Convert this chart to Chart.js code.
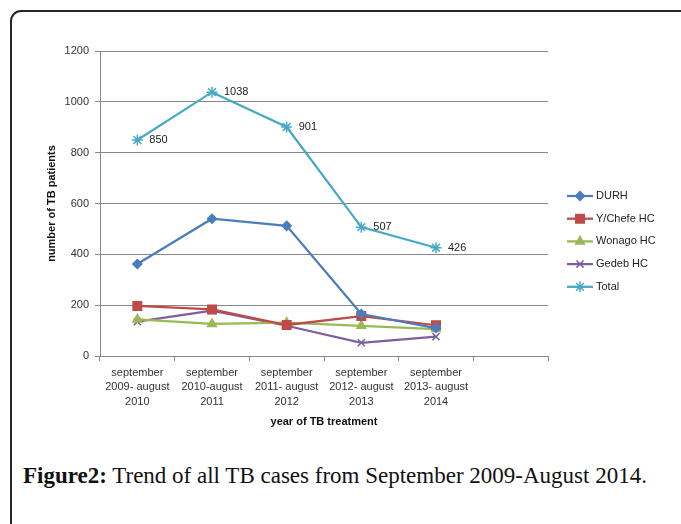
<!DOCTYPE html>
<html>
<head>
<meta charset="utf-8">
<script src="https://cdn.jsdelivr.net/npm/chart.js@4/dist/chart.umd.min.js"></script>
<style>
  html, body { margin: 0; padding: 0; background: #fff; overflow: hidden; }
  #frame {
    position: absolute; left: 10px; top: 10px; width: 720px; height: 600px;
    border: 2px solid #262626; border-radius: 11px;
  }
  #wrap { position: absolute; left: 0; top: 0; width: 681px; height: 440px; }
  #caption {
    position: absolute; left: 23px; top: 463px; white-space: nowrap;
    font-family: 'Liberation Serif', serif; font-size: 23px; line-height: 26px; color: #111;
  }
  #caption b { font-weight: bold; }
</style>
</head>
<body>
<div id="frame"></div>
<div id="wrap"><canvas id="tbChart" width="681" height="440"></canvas></div>
<div id="caption"><b>Figure2:</b> Trend of all TB cases from September 2009-August 2014.</div>
<script>
/* TB cases per facility, Sept 2009 - Aug 2014 */

const CATEGORIES = [
  ['september', '2009- august', '2010'],
  ['september', '2010-august', '2011'],
  ['september', '2011- august', '2012'],
  ['september', '2012- august', '2013'],
  ['september', '2013- august', '2014'],
  '',
];
const DURH = [362, 540, 512, 165, 110];
const YCHEFE = [197, 183, 122, 157, 121];
const WONAGO = [144, 126, 131, 119, 106];
const GEDEB = [135, 178, 119, 52, 76];
const TOTAL = [850, 1038, 901, 507, 426];
const Y_TICKS = [0, 200, 400, 600, 800, 1000, 1200];

const COLORS = {
  durh: '#4a7ebb',
  ychefe: '#be4b48',
  wonago: '#98b954',
  gedeb: '#7d5fa0',
  total: '#46aac5',
  grid: '#878787',
  text: '#333333',
};

const FONT = 'Liberation Sans';

function series(label, data, color, pointStyle, radius) {
  return {
    label, data,
    borderColor: color,
    backgroundColor: color,
    pointBackgroundColor: color,
    pointBorderColor: color,
    borderWidth: 2.25,
    pointStyle,
    pointRadius: radius,
    pointBorderWidth: 1.5,
    tension: 0,
  };
}

// value labels next to the Total points
const totalLabels = {
  id: 'totalLabels',
  afterDatasetsDraw(chart) {
    const meta = chart.getDatasetMeta(4);
    const ctx = chart.ctx;
    ctx.save();
    ctx.font = '11px ' + FONT;
    ctx.fillStyle = '#222';
    ctx.textAlign = 'left';
    ctx.textBaseline = 'middle';
    meta.data.forEach((pt, i) => {
      ctx.fillText(String(TOTAL[i]), pt.x + 12, pt.y);
    });
    ctx.restore();
  },
};

// excel style legend: line sample with marker in the middle
const sideLegend = {
  id: 'sideLegend',
  afterDraw(chart) {
    const ctx = chart.ctx;
    const area = chart.chartArea;
    const x0 = area.right + 19;
    const y0 = area.top + 145;
    ctx.save();
    chart.data.datasets.forEach((ds, i) => {
      const y = y0 + i * 22.7;
      ctx.strokeStyle = ds.borderColor;
      ctx.lineWidth = 2.25;
      ctx.beginPath();
      ctx.moveTo(x0, y);
      ctx.lineTo(x0 + 26, y);
      ctx.stroke();
      ctx.fillStyle = ds.pointBackgroundColor;
      ctx.lineWidth = 1.5;
      Chart.helpers.drawPoint(ctx, { pointStyle: ds.pointStyle, radius: ds.pointRadius, rotation: 0, borderWidth: 1.5 }, x0 + 13, y);
      ctx.font = '11px ' + FONT;
      ctx.fillStyle = '#222';
      ctx.textAlign = 'left';
      ctx.textBaseline = 'middle';
      ctx.fillText(ds.label, x0 + 29, y);
    });
    ctx.restore();
  },
};

new Chart(document.getElementById('tbChart'), {
  type: 'line',
  data: {
    labels: CATEGORIES,
    datasets: [
      series('DURH', DURH, COLORS.durh, 'rectRot', 4.5),
      series('Y/Chefe HC', YCHEFE, COLORS.ychefe, 'rect', 6),
      series('Wonago HC', WONAGO, COLORS.wonago, 'triangle', 5),
      series('Gedeb HC', GEDEB, COLORS.gedeb, 'crossRot', 5),
      series('Total', TOTAL, COLORS.total, 'star', 5.5),
    ],
  },
  plugins: [totalLabels, sideLegend],
  options: {
    responsive: false,
    animation: false,
    layout: { padding: { left: 40, top: 51, right: 133, bottom: 0 } },
    plugins: {
      legend: { display: false },
      tooltip: { enabled: false },
    },
    scales: {
      x: {
        offset: true,
        afterFit(scale) { scale.height = 84; },
        grid: { offset: true, drawOnChartArea: false, drawTicks: true, tickLength: 5, color: COLORS.grid },
        border: { color: COLORS.grid, width: 1 },
        ticks: {
          color: COLORS.text, padding: 5, maxRotation: 0, autoSkip: false,
          font: { family: FONT, size: 11, lineHeight: 1.3 },
        },
        title: {
          display: true, text: 'year of TB treatment', color: '#111',
          font: { family: FONT, size: 11, weight: 'bold' },
          padding: { top: 4, bottom: 11 },
        },
      },
      y: {
        min: 0,
        max: 1200,
        afterFit(scale) { scale.width = 60; },
        afterBuildTicks(scale) { scale.ticks = Y_TICKS.map(v => ({ value: v })); },
        grid: { color: COLORS.grid, lineWidth: 1, tickLength: 5 },
        border: { color: COLORS.grid, width: 1 },
        ticks: {
          color: COLORS.text, padding: 6, font: { family: FONT, size: 11 },
          callback: (v) => String(v),
        },
        title: {
          display: true, text: 'number of TB patients', color: '#111',
          font: { family: FONT, size: 11, weight: 'bold' },
          padding: { top: 5, bottom: 4 },
        },
      },
    },
  },
});
</script>
</body>
</html>
